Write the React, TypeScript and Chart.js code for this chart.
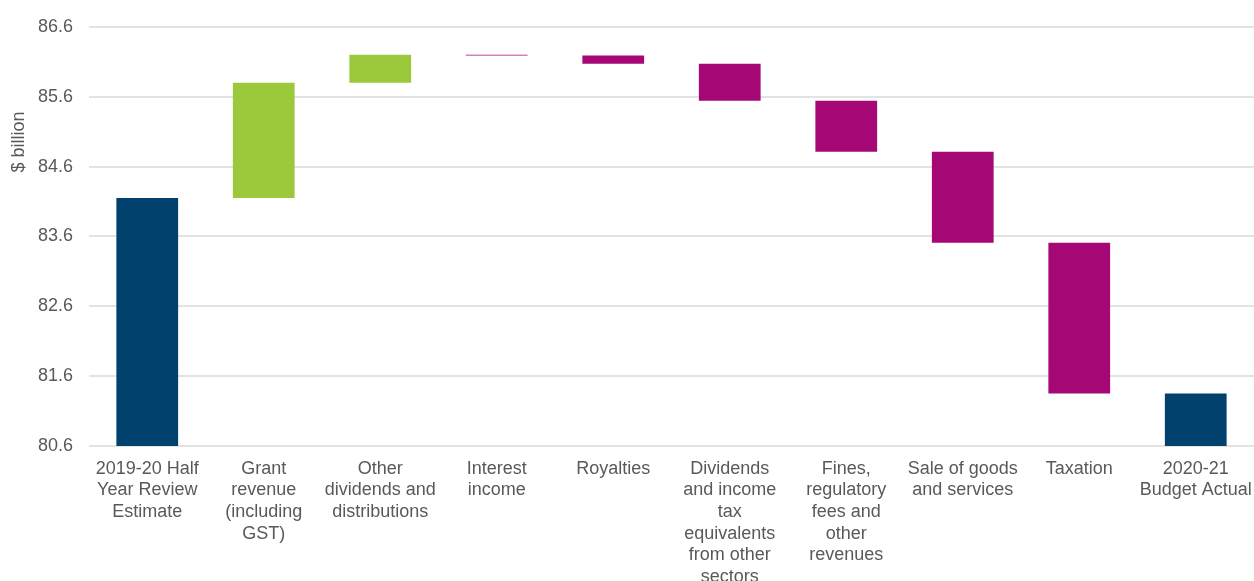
import React, { useEffect, useRef } from "react";
import { Chart, registerables } from "chart.js";

Chart.register(...registerables);

const categories: string[][] = [
  ["2019-20 Half", "Year Review", "Estimate"],
  ["Grant", "revenue", "(including", "GST)"],
  ["Other", "dividends and", "distributions"],
  ["Interest", "income"],
  ["Royalties"],
  ["Dividends", "and income", "tax", "equivalents", "from other", "sectors"],
  ["Fines,", "regulatory", "fees and", "other", "revenues"],
  ["Sale of goods", "and services"],
  ["Taxation"],
  ["2020-21", "Budget Actual"],
];

const barLow: number[] = [80.6, 84.15, 85.8, 86.188, 86.07, 85.54, 84.81, 83.51, 81.35, 80.6];
const barHigh: number[] = [84.15, 85.8, 86.2, 86.2, 86.188, 86.07, 85.54, 84.81, 83.51, 81.35];

const NAVY = "#00416E";
const GREEN = "#9BC93B";
const MAGENTA = "#A50874";
const barColors: string[] = [NAVY, GREEN, GREEN, MAGENTA, MAGENTA, MAGENTA, MAGENTA, MAGENTA, MAGENTA, NAVY];

const yMin = 80.6;
const yMax = 86.6;
const yStep = 1;
const yTitle = "$ billion";

const FONT = "'Liberation Sans', Arial, sans-serif";
const TEXT = "#595959";

export default function App() {
  const ref = useRef<HTMLCanvasElement | null>(null);

  useEffect(() => {
    document.body.style.margin = "0";
    if (!ref.current) return;
    const titlePlugin = {
      id: "yTitle",
      afterDraw(chart: any) {
        const ctx = chart.ctx;
        ctx.save();
        ctx.translate(19, 142);
        ctx.rotate(-Math.PI / 2);
        ctx.font = `18px ${FONT}`;
        ctx.fillStyle = TEXT;
        ctx.textAlign = "center";
        ctx.textBaseline = "middle";
        ctx.fillText(yTitle, 0, 0);
        ctx.restore();
      },
    };
    const chart = new Chart(ref.current, {
      type: "bar",
      data: {
        labels: categories,
        datasets: [
          {
            data: barLow.map((l, i) => [l, barHigh[i]]) as any,
            backgroundColor: barColors,
            borderWidth: 0,
            barPercentage: 0.53,
            categoryPercentage: 1,
          },
        ],
      },
      options: {
        animation: false,
        responsive: true,
        maintainAspectRatio: false,
        layout: { padding: { top: 24, right: 0, left: 0, bottom: 0 } },
        plugins: { legend: { display: false }, tooltip: { enabled: false } },
        scales: {
          x: {
            grid: { display: false, drawTicks: false },
            border: { display: false },
            ticks: {
              autoSkip: false,
              maxRotation: 0,
              minRotation: 0,
              padding: 12,
              color: TEXT,
              font: { family: FONT, size: 18, lineHeight: 1.2 },
            },
            afterFit(scale: any) {
              scale.height = 135;
              scale.paddingLeft = 0;
              scale.paddingRight = 0;
            },
          },
          y: {
            min: yMin,
            max: yMax,
            grid: { color: "#e3e3e3", lineWidth: 2, drawTicks: false },
            border: { display: false },
            ticks: {
              stepSize: yStep,
              padding: 16,
              color: TEXT,
              font: { family: FONT, size: 18 },
              callback: (v: any) => Number(v).toFixed(1),
            },
            afterFit(scale: any) {
              scale.width = 89;
            },
          },
        },
      },
      plugins: [titlePlugin],
    });
    return () => chart.destroy();
  }, []);

  return (
    <div style={{ width: 1254, height: 581, position: "relative" }}>
      <canvas ref={ref} />
    </div>
  );
}
